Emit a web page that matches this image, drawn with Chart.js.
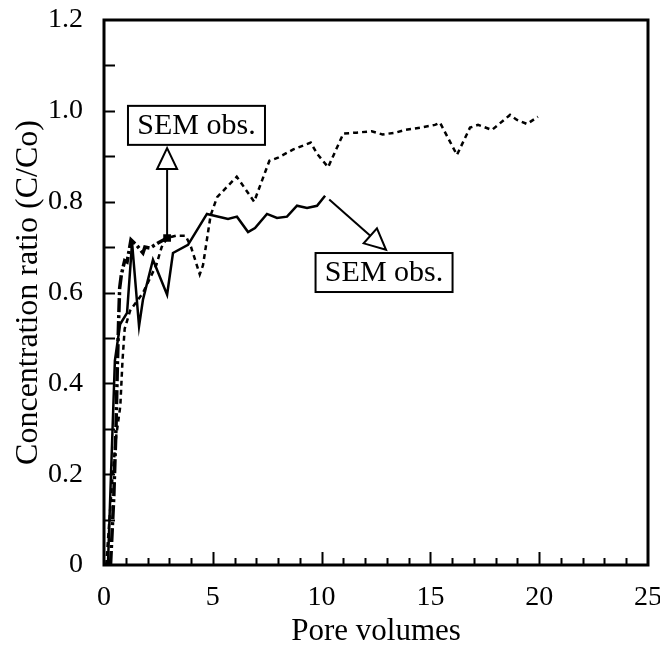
<!DOCTYPE html>
<html lang="en">
<head>
    <meta charset="UTF-8">
    <title>index</title>
    <script src="https://cdn.jsdelivr.net/npm/chart.js@4.4.0/dist/chart.umd.min.js"></script>
    <style>
        body {
            margin: 0;
            background: #fff;
        }
    </style>
</head>
<body>
<canvas id="canvas" width="660" height="650"></canvas>

<script>
    // pore volumes / C/Co pairs, one list per column
    var solidX = [0.18, 0.5, 0.74, 1.06, 1.29, 1.61, 1.79, 2.25, 2.9, 3.17, 3.86, 4.73, 5.7, 6.11, 6.62, 6.94, 7.49, 7.95, 8.41, 8.87, 9.33, 9.79, 10.16];
    var solidY = [0, 0.45, 0.53, 0.555, 0.71, 0.526, 0.584, 0.672, 0.595, 0.687, 0.705, 0.773, 0.762, 0.767, 0.733, 0.742, 0.773, 0.764, 0.767, 0.791, 0.786, 0.791, 0.813];

    var dottedX = [0.1, 0.25, 0.4, 0.55, 0.75, 0.85, 0.95, 1.2, 1.5, 1.8, 2.0, 2.4, 2.65, 2.9, 3.3, 3.75, 4.0, 4.4, 4.55, 4.9, 5.2, 6.1, 6.9, 7.6, 8.0, 8.7, 9.5, 9.8, 10.3, 11.0, 11.6, 12.3, 12.8, 13.4, 13.83, 14.52, 15.21, 15.44, 16.22, 16.82, 17.19, 17.83, 18.66, 18.98, 19.44, 19.94];
    var dottedY = [0, 0.1, 0.2, 0.28, 0.35, 0.45, 0.52, 0.56, 0.58, 0.6, 0.62, 0.66, 0.7, 0.72, 0.725, 0.725, 0.7, 0.64, 0.66, 0.77, 0.81, 0.855, 0.8, 0.89, 0.897, 0.915, 0.93, 0.905, 0.876, 0.95, 0.952, 0.955, 0.948, 0.952, 0.958, 0.963, 0.969, 0.974, 0.903, 0.963, 0.969, 0.958, 0.991, 0.98, 0.971, 0.987];

    var dashX = [0.3, 0.45, 0.55, 0.62, 0.68, 0.72, 0.8, 0.95, 1.06, 1.24, 1.52, 1.79, 1.88, 2.11, 2.48, 2.9];
    var dashY = [0, 0.15, 0.3, 0.45, 0.55, 0.61, 0.64, 0.67, 0.667, 0.716, 0.703, 0.687, 0.7, 0.698, 0.709, 0.72];

    var xTicks = [0, 5, 10, 15, 20, 25];
    var yTicks = [0, 0.2, 0.4, 0.6, 0.8, 1.0, 1.2];

    // callouts: box centre, arrow tip, arrow start (data units)
    var notes = [
        {text: 'SEM obs.', box: [4.25, 0.968], tip: [2.9, 0.918], from: [2.9, 0.72]},
        {text: 'SEM obs.', box: [12.87, 0.644], tip: [12.96, 0.694], from: [10.35, 0.805]}
    ];

    var serif = '"Liberation Serif", "Times New Roman", serif';

    function pts(xs, ys) {
        return xs.map(function (x, i) {
            return {x: x, y: ys[i]};
        });
    }

    var framePlugin = {
        id: 'frame',
        beforeDatasetsDraw: function (chart) {
            var ctx = chart.ctx, a = chart.chartArea;
            var xs = chart.scales.x, ys = chart.scales.y;
            ctx.save();
            ctx.strokeStyle = '#000';
            ctx.lineWidth = 2;
            ctx.beginPath();
            for (var i = 1; i < 25; i++) {
                var px = Math.round(xs.getPixelForValue(i)) + 0.5;
                var len = i % 5 === 0 ? 13 : 7;
                ctx.moveTo(px, a.bottom);
                ctx.lineTo(px, a.bottom - len);
            }
            for (var j = 1; j < 12; j++) {
                var py = Math.round(ys.getPixelForValue(j / 10)) + 0.5;
                ctx.moveTo(a.left, py);
                ctx.lineTo(a.left + 11, py);
            }
            ctx.stroke();
            ctx.lineWidth = 3;
            ctx.strokeRect(a.left, a.top, a.right - a.left, a.bottom - a.top);
            ctx.restore();
        },
        afterDatasetsDraw: function (chart) {
            var ctx = chart.ctx;
            var xs = chart.scales.x, ys = chart.scales.y;
            ctx.save();
            ctx.font = '30px ' + serif;
            ctx.textAlign = 'center';
            ctx.textBaseline = 'middle';
            notes.forEach(function (n) {
                var bx = xs.getPixelForValue(n.box[0]), by = ys.getPixelForValue(n.box[1]);
                var tx = xs.getPixelForValue(n.tip[0]), ty = ys.getPixelForValue(n.tip[1]);
                var fx = xs.getPixelForValue(n.from[0]), fy = ys.getPixelForValue(n.from[1]);
                var ang = Math.atan2(ty - fy, tx - fx);
                var head = 21, half = 10;
                var hx = tx - Math.cos(ang) * head, hy = ty - Math.sin(ang) * head;

                ctx.strokeStyle = '#000';
                ctx.lineWidth = 2;
                ctx.beginPath();
                ctx.moveTo(fx, fy);
                ctx.lineTo(hx, hy);
                ctx.stroke();

                ctx.fillStyle = '#fff';
                ctx.beginPath();
                ctx.moveTo(tx, ty);
                ctx.lineTo(hx - Math.sin(ang) * half, hy + Math.cos(ang) * half);
                ctx.lineTo(hx + Math.sin(ang) * half, hy - Math.cos(ang) * half);
                ctx.closePath();
                ctx.fill();
                ctx.stroke();

                var w = 137, h = 39;
                ctx.fillRect(bx - w / 2, by - h / 2, w, h);
                ctx.strokeRect(bx - w / 2, by - h / 2, w, h);
                ctx.fillStyle = '#000';
                ctx.fillText(n.text, bx, by + 1);
            });
            ctx.restore();
        }
    };

    window.onload = function () {
        var ctx = document.getElementById('canvas').getContext('2d');
        new Chart(ctx, {
            type: 'scatter',
            data: {
                datasets: [{
                    data: pts(solidX, solidY),
                    borderColor: '#000',
                    borderWidth: 2.5,
                    showLine: true,
                    pointRadius: 0
                }, {
                    data: pts(dottedX, dottedY),
                    borderColor: '#000',
                    borderWidth: 2.5,
                    borderDash: [5, 4],
                    showLine: true,
                    pointRadius: 0
                }, {
                    data: pts(dashX, dashY),
                    borderColor: '#000',
                    backgroundColor: '#000',
                    borderWidth: 3.5,
                    borderDash: [14, 3, 3, 3],
                    showLine: true,
                    pointStyle: 'rect',
                    pointRadius: function (c) {
                        return c.dataIndex === dashX.length - 1 ? 3 : 0;
                    }
                }]
            },
            options: {
                responsive: false,
                animation: false,
                layout: {padding: {top: 20, right: 12, left: 0, bottom: 0}},
                plugins: {legend: {display: false}, tooltip: {enabled: false}},
                scales: {
                    x: {
                        type: 'linear',
                        min: 0,
                        max: 25,
                        afterBuildTicks: function (s) {
                            s.ticks = xTicks.map(function (v) { return {value: v}; });
                        },
                        afterFit: function (s) {
                            s.height = 85;
                            s.paddingLeft = 0;
                            s.paddingRight = 0;
                        },
                        grid: {display: false},
                        border: {display: false},
                        ticks: {color: '#000', padding: 8, maxRotation: 0, font: {family: serif, size: 28}},
                        title: {display: true, text: 'Pore volumes', color: '#000', padding: {top: 0, bottom: 0}, font: {family: serif, size: 31}}
                    },
                    y: {
                        min: 0,
                        max: 1.2,
                        afterBuildTicks: function (s) {
                            s.ticks = yTicks.map(function (v) { return {value: v}; });
                        },
                        afterFit: function (s) {
                            s.width = 104;
                            s.paddingTop = 0;
                            s.paddingBottom = 0;
                        },
                        grid: {display: false},
                        border: {display: false},
                        ticks: {
                            color: '#000', padding: 13, font: {family: serif, size: 28},
                            callback: function (v) { return v === 0 ? '0' : v.toFixed(1); }
                        },
                        title: {display: true, text: 'Concentration ratio (C/Co)', color: '#000', padding: {top: 9, bottom: 0}, font: {family: serif, size: 32}}
                    }
                }
            },
            plugins: [framePlugin]
        });
    };
</script>
</body>
</html>
